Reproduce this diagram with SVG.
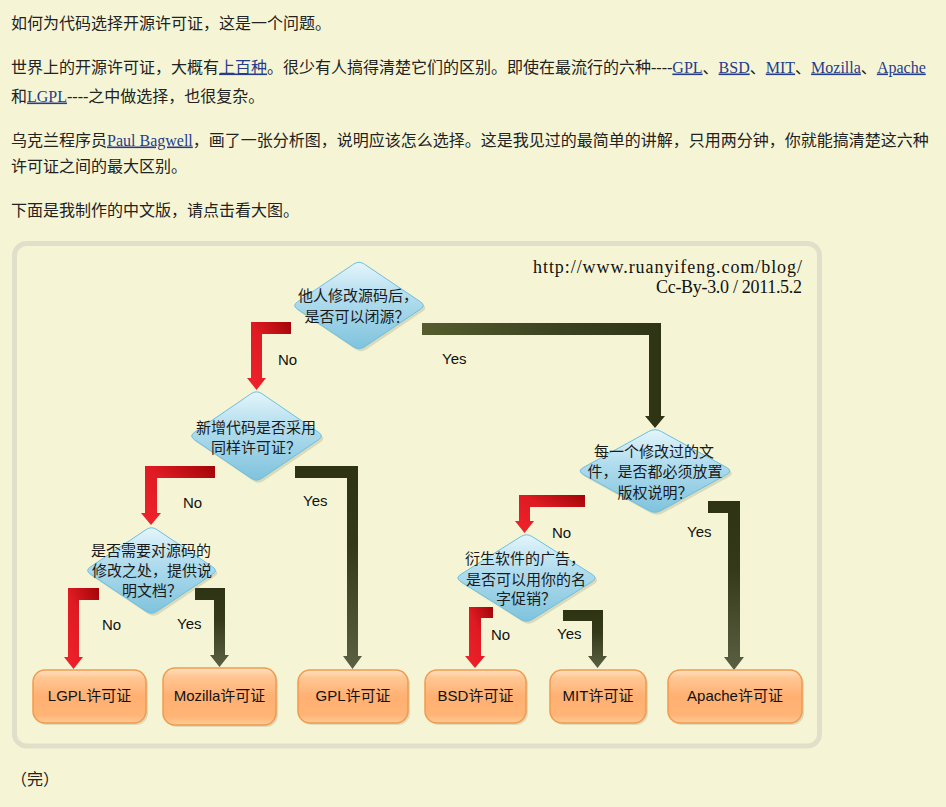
<svg xmlns="http://www.w3.org/2000/svg" xmlns:xlink="http://www.w3.org/1999/xlink" width="946" height="807" viewBox="0 0 946 807">
<style>
.t{font-family:"Liberation Serif","Noto Sans CJK SC",serif;font-size:16px;fill:#222}
.lk{fill:#263c8c;text-decoration:underline}
.hd{font-family:"Liberation Serif",serif;font-size:18px;fill:#111;text-anchor:end}
.dt{font-family:"Noto Sans CJK SC",sans-serif;font-size:15px;fill:#1a1a1a;text-anchor:middle}
.lb{font-family:"Liberation Sans",Arial,sans-serif;font-size:15px;fill:#111}
.bt{font-family:"Liberation Sans","Noto Sans CJK SC",sans-serif;font-size:15px;fill:#111;text-anchor:middle}
.dia{fill:url(#gDia);stroke:#6cbfdf;stroke-width:1}
.dsh{fill:#8c8a6c;opacity:0.25}
.box{fill:url(#gBox);stroke:#f29a4c;stroke-width:1.5}
.bsh{fill:#b9b394;opacity:0.4}
.no{fill:url(#gRed)}
.yes{fill:url(#gYes)}
</style>
<defs>
<linearGradient id="gDia" x1="0" y1="0" x2="0" y2="1">
<stop offset="0" stop-color="#e4f5fb"/>
<stop offset="0.4" stop-color="#b2ddee"/>
<stop offset="1" stop-color="#7fc3dd"/>
</linearGradient>
<linearGradient id="gRed" x1="0" y1="1" x2="1" y2="0">
<stop offset="0" stop-color="#f2232c"/>
<stop offset="0.55" stop-color="#de1a22"/>
<stop offset="1" stop-color="#a00408"/>
</linearGradient>
<linearGradient id="gYes" x1="0" y1="0" x2="0" y2="1">
<stop offset="0" stop-color="#2d3313"/>
<stop offset="0.4" stop-color="#343a19"/>
<stop offset="1" stop-color="#5c6043"/>
</linearGradient>
<linearGradient id="gYes1" x1="0" y1="0" x2="1" y2="0">
<stop offset="0" stop-color="#555c2e"/>
<stop offset="0.6" stop-color="#3a4020"/>
<stop offset="1" stop-color="#2d3313"/>
</linearGradient>
<linearGradient id="gBox" x1="0" y1="0" x2="0" y2="1">
<stop offset="0" stop-color="#ffe2c4"/>
<stop offset="0.14" stop-color="#ffc794"/>
<stop offset="0.5" stop-color="#ffb072"/>
<stop offset="0.86" stop-color="#ffb577"/>
<stop offset="1" stop-color="#ffcc98"/>
</linearGradient>
<path id="dia" vector-effect="non-scaling-stroke" d="M4,-46 L46,-4 Q50,0 46,4 L4,46 Q0,50 -4,46 L-46,4 Q-50,0 -46,-4 L-4,-46 Q0,-50 4,-46 Z"/>
</defs>

<rect x="0" y="0" width="946" height="807" fill="#f5f5d5"/>

<g id="intro">
<text class="t" x="11" y="28.5">如何为代码选择开源许可证，这是一个问题。</text>
<text class="t" x="11" y="72.5">世界上的开源许可证，大概有<tspan class="lk">上百种</tspan>。很少有人搞得清楚它们的区别。即使在最流行的六种----<tspan class="lk">GPL</tspan>、<tspan class="lk">BSD</tspan>、<tspan class="lk">MIT</tspan>、<tspan class="lk">Mozilla</tspan>、<tspan class="lk">Apache</tspan></text>
<text class="t" x="11" y="101.5">和<tspan class="lk">LGPL</tspan>----之中做选择，也很复杂。</text>
<text class="t" x="11" y="145.5">乌克兰程序员<tspan class="lk">Paul Bagwell</tspan>，画了一张分析图，说明应该怎么选择。这是我见过的最简单的讲解，只用两分钟，你就能搞清楚这六种</text>
<text class="t" x="11" y="171.5">许可证之间的最大区别。</text>
<text class="t" x="11" y="216">下面是我制作的中文版，请点击看大图。</text>
<text class="t" x="11" y="785">（完）</text>
</g>

<g id="frame">
<rect x="14.5" y="243.5" width="805" height="502.5" rx="12" fill="#f5f5d5" stroke="#e0dfc9" stroke-width="5"/>
<text class="hd" x="802" y="273" textLength="269" lengthAdjust="spacing">http://www.ruanyifeng.com/blog/</text>
<text class="hd" x="802" y="293" textLength="146" lengthAdjust="spacing">Cc-By-3.0 / 2011.5.2</text>
</g>

<g id="connectors">
<path class="no" d="M291,322 H251 V378 H247 L256.5,390 L266,378 H262 V334 H291 Z"/>
<path fill="url(#gYes1)" d="M422,323 H661 V416 H665 L655,428 L645,416 H649 V335 H422 Z"/>
<path class="no" d="M215,466 H145 V513 H141 L151,525 L161,513 H157 V478 H215 Z"/>
<path class="yes" d="M295,466 H358 V656 H362 L352.5,669 L343,656 H347 V478 H295 Z"/>
<path class="no" d="M99,588 H68 V657 H64 L73.5,669 L83,657 H79 V600 H99 Z"/>
<path class="yes" d="M195,588 H225 V655 H229 L219.5,667 L210,655 H214 V600 H195 Z"/>
<path class="no" d="M585,495 H519 V521 H515 L524.5,533 L534,521 H530 V507 H585 Z"/>
<path class="yes" d="M708,501 H740 V657 H744 L734,670 L724,657 H728 V513 H708 Z"/>
<path class="no" d="M493,607 H469 V656 H465 L475,668 L485,656 H481 V618 H493 Z"/>
<path class="yes" d="M563,610 H603 V656 H607 L597.5,668 L588,656 H592 V621 H563 Z"/>
<text class="lb" x="278" y="364.5">No</text>
<text class="lb" x="442" y="363.5">Yes</text>
<text class="lb" x="183" y="507.5">No</text>
<text class="lb" x="303" y="505.5">Yes</text>
<text class="lb" x="102" y="629.5">No</text>
<text class="lb" x="177" y="628.5">Yes</text>
<text class="lb" x="552" y="537.5">No</text>
<text class="lb" x="687" y="536.5">Yes</text>
<text class="lb" x="491" y="639.5">No</text>
<text class="lb" x="557" y="638.5">Yes</text>
</g>

<g id="q1">
<use href="#dia" class="dsh" transform="translate(361,308) scale(1.34,0.9)"/>
<use href="#dia" class="dia" transform="translate(359,305.5) scale(1.34,0.9)"/>
<text class="dt" x="358" y="300.5">他人修改源码后，</text>
<text class="dt" x="357" y="321.5">是否可以闭源？</text>
</g>

<g id="q2">
<use href="#dia" class="dsh" transform="translate(258.5,438.5) scale(1.35,0.92)"/>
<use href="#dia" class="dia" transform="translate(256.5,436) scale(1.35,0.92)"/>
<text class="dt" x="256" y="432.5">新增代码是否采用</text>
<text class="dt" x="256" y="452.5">同样许可证？</text>
</g>

<g id="q3">
<use href="#dia" class="dsh" transform="translate(153.5,573) scale(1.33,0.89)"/>
<use href="#dia" class="dia" transform="translate(151.5,570.5) scale(1.33,0.89)"/>
<text class="dt" x="151" y="555.5">是否需要对源码的</text>
<text class="dt" x="152" y="575.5">修改之处，提供说</text>
<text class="dt" x="152" y="595.5">明文档？</text>
</g>

<g id="q4">
<use href="#dia" class="dsh" transform="translate(657,473.5) scale(1.56,0.86)"/>
<use href="#dia" class="dia" transform="translate(655,471) scale(1.56,0.86)"/>
<text class="dt" x="654" y="456.5">每一个修改过的文</text>
<text class="dt" x="655" y="476.5">件，是否都必须放置</text>
<text class="dt" x="655" y="497.5">版权说明？</text>
</g>

<g id="q5">
<use href="#dia" class="dsh" transform="translate(528.5,580.5) scale(1.43,0.9)"/>
<use href="#dia" class="dia" transform="translate(526.5,578) scale(1.43,0.9)"/>
<text class="dt" x="525" y="563.5">衍生软件的广告，</text>
<text class="dt" x="526" y="584.5">是否可以用你的名</text>
<text class="dt" x="526" y="603.5">字促销？</text>
</g>

<g id="lgpl">
<rect class="bsh" x="35" y="672" width="113" height="53" rx="12"/>
<rect class="box" x="33" y="670" width="113" height="53" rx="12"/>
<text class="bt" x="89.5" y="701">LGPL许可证</text>
</g>
<g id="mozilla">
<rect class="bsh" x="165" y="670" width="113" height="57" rx="12"/>
<rect class="box" x="163" y="668" width="113" height="57" rx="12"/>
<text class="bt" x="219.5" y="701">Mozilla许可证</text>
</g>
<g id="gpl">
<rect class="bsh" x="300" y="672" width="110" height="53" rx="12"/>
<rect class="box" x="298" y="670" width="110" height="53" rx="12"/>
<text class="bt" x="353" y="701">GPL许可证</text>
</g>
<g id="bsd">
<rect class="bsh" x="427" y="672" width="101" height="53" rx="12"/>
<rect class="box" x="425" y="670" width="101" height="53" rx="12"/>
<text class="bt" x="475.5" y="701">BSD许可证</text>
</g>
<g id="mit">
<rect class="bsh" x="552" y="672" width="96" height="53" rx="12"/>
<rect class="box" x="550" y="670" width="96" height="53" rx="12"/>
<text class="bt" x="598" y="701">MIT许可证</text>
</g>
<g id="apache">
<rect class="bsh" x="670" y="672" width="134" height="53" rx="12"/>
<rect class="box" x="668" y="670" width="134" height="53" rx="12"/>
<text class="bt" x="735" y="701">Apache许可证</text>
</g>
</svg>
